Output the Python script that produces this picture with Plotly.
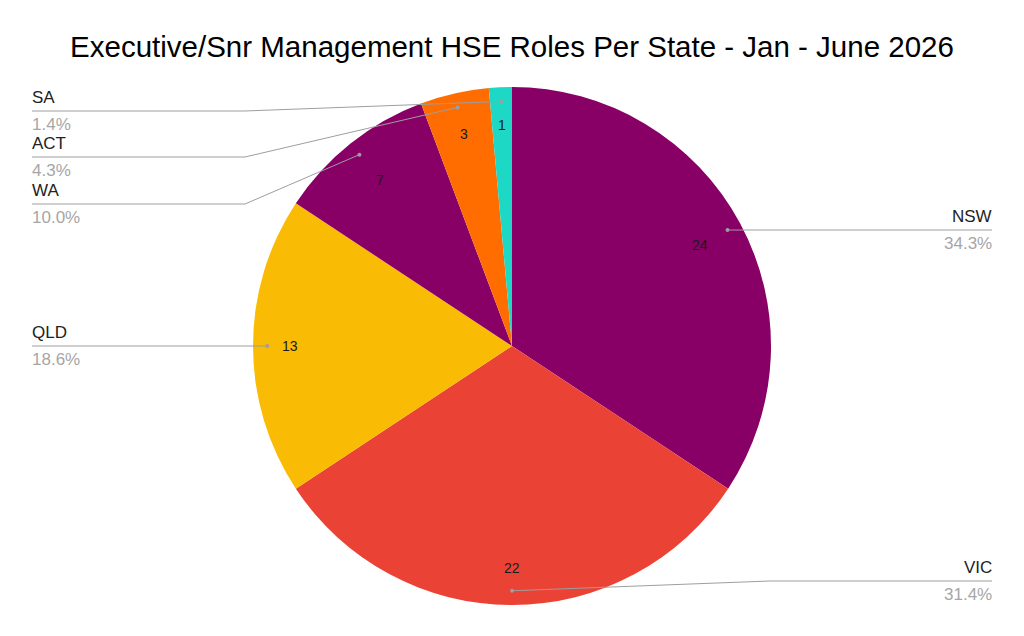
import math
import plotly.graph_objects as go

# data
states = ["NSW", "VIC", "QLD", "WA", "ACT", "SA"]
roles = [24, 22, 13, 7, 3, 1]
colors = ["#880066", "#EA4335", "#FABB05", "#880066", "#FF6D01", "#1ED8C6"]

TITLE = "Executive/Snr Management HSE Roles Per State - Jan - June 2026"

W, H = 1024, 636
OFF = 8                            # body margin of the page
CX, CY, R = 512, 346, 259          # pie centre / radius in page pixels
LEFT_X, KNEE_L, KNEE_R, RIGHT_X = 32, 245, 770, 992
# where Sheets moved the label line away from the slice's own height
label_y_override = {"SA": 111, "ACT": 157, "WA": 204, "VIC": 581}


def px(x):
    return (x - OFF) / W


def py(y):
    return 1 - (y - OFF) / H


def polar(angle_deg, rad):
    a = math.radians(angle_deg)
    return CX + rad * math.sin(a), CY - rad * math.cos(a)


fig = go.Figure(go.Pie(
    labels=states,
    values=roles,
    sort=False,
    direction="clockwise",
    rotation=0,
    marker=dict(colors=colors, line=dict(width=0)),
    textinfo="none",
    hoverinfo="label+value+percent",
    showlegend=False,
    domain=dict(x=[px(CX - R), px(CX + R)], y=[py(CY + R), py(CY - R)]),
))

total = sum(roles)
shapes, annotations = [], []
cum = 0
line_style = dict(color="#9e9e9e", width=1)
for name, val in zip(states, roles):
    mid = (cum + val / 2) / total * 360
    cum += val
    right = mid <= 180 + 1e-9

    # value inside slice, pulled in a little on the diagonals
    rt = R * 0.857 - 10 * abs(math.sin(math.radians(2 * mid)))
    tx, ty = polar(mid, rt)
    annotations.append(dict(x=px(tx), y=py(ty), xref="paper", yref="paper",
                            xanchor="center", yanchor="middle",
                            text=str(val), showarrow=False,
                            font=dict(size=14, color="#1a1a1a")))

    # leader line
    dx, dy = polar(mid, R * 0.945)
    ly = label_y_override.get(name, dy)
    moved = name in label_y_override
    if right:
        pts = [(dx, dy), (KNEE_R if moved else dx, ly), (RIGHT_X, ly)]
    else:
        pts = [(dx, dy), (KNEE_L if moved else dx, ly), (LEFT_X, ly)]
    for (x0, y0), (x1, y1) in zip(pts[:-1], pts[1:]):
        if abs(x0 - x1) < 0.01 and abs(y0 - y1) < 0.01:
            continue
        shapes.append(dict(type="line", xref="paper", yref="paper",
                           x0=px(x0), y0=py(y0), x1=px(x1), y1=py(y1),
                           line=line_style))
    shapes.append(dict(type="circle", xref="paper", yref="paper",
                       x0=px(dx - 2), x1=px(dx + 2), y0=py(dy - 2), y1=py(dy + 2),
                       fillcolor="#9e9e9e", line=dict(width=0)))

    # name + percent
    ax = RIGHT_X + 2 if right else LEFT_X - 2
    anchor = "right" if right else "left"
    annotations.append(dict(x=px(ax), y=py(ly - 2), xref="paper", yref="paper",
                            text=name, showarrow=False, xanchor=anchor, yanchor="bottom",
                            font=dict(size=17, color="#222222")))
    annotations.append(dict(x=px(ax), y=py(ly + 2), xref="paper", yref="paper",
                            text=f"{val / total * 100:.1f}%", showarrow=False,
                            xanchor=anchor, yanchor="top",
                            font=dict(size=17, color="#a6a6a6")))

fig.update_layout(
    width=W, height=H,
    margin=dict(l=0, r=0, t=0, b=0),
    paper_bgcolor="white",
    font=dict(family="Liberation Sans, Arial, sans-serif"),
    title=dict(text=TITLE, x=px(512), xanchor="center", y=py(47), yanchor="middle",
               font=dict(size=29.5, color="#000000")),
    shapes=shapes,
    annotations=annotations,
)

fig.write_html("out.html")
